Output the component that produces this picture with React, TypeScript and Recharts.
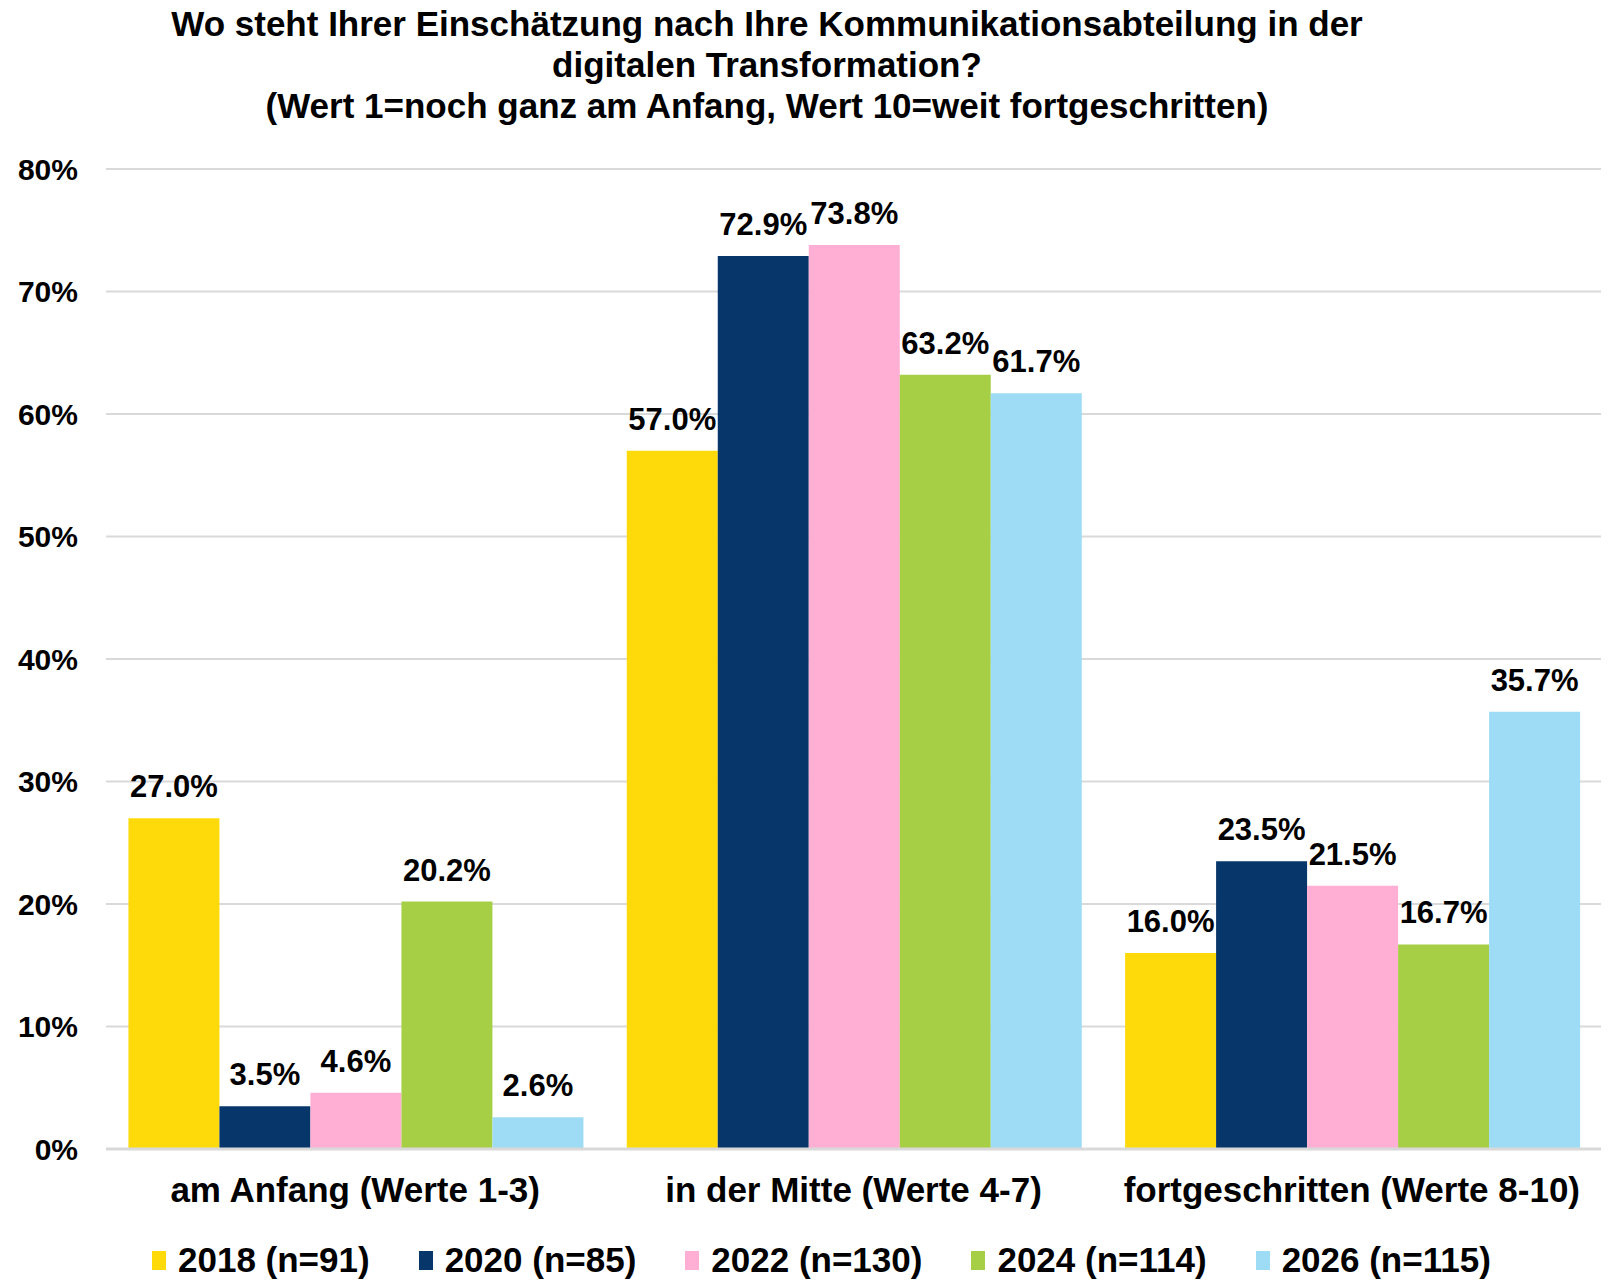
import { BarChart, Bar, XAxis, YAxis, CartesianGrid, Legend, LabelList } from "recharts";

const categories = ["am Anfang (Werte 1-3)", "in der Mitte (Werte 4-7)", "fortgeschritten (Werte 8-10)"];
const seriesNames = ["2018 (n=91)", "2020 (n=85)", "2022 (n=130)", "2024 (n=114)", "2026 (n=115)"];
const values2018 = [27.0, 57.0, 16.0];
const values2020 = [3.5, 72.9, 23.5];
const values2022 = [4.6, 73.8, 21.5];
const values2024 = [20.2, 63.2, 16.7];
const values2026 = [2.6, 61.7, 35.7];
const yTicks = [0, 10, 20, 30, 40, 50, 60, 70, 80];
const titleLines = [
    "Wo steht Ihrer Einschätzung nach Ihre Kommunikationsabteilung in der",
    "digitalen Transformation?",
    "(Wert 1=noch ganz am Anfang, Wert 10=weit fortgeschritten)",
];

const colors = ["#FFDA0B", "#07366A", "#FFAED4", "#A6CF45", "#9EDCF5"];
const font = "'Liberation Sans', Arial, sans-serif";

const seriesValues = [values2018, values2020, values2022, values2024, values2026];
const data = categories.map((c, i) => {
    const row: any = { name: c };
    seriesNames.forEach((s, j) => (row[s] = seriesValues[j][i]));
    return row;
});

const YTick = (props: any) => (
    <text x={78} y={props.y} dy="0.36em" textAnchor="end" fontSize={30} fontWeight="bold" fontFamily={font} fill="#000">
        {props.payload.value}%
    </text>
);

const XTick = (props: any) => (
    <text x={props.x} y={1149} dy={53} textAnchor="middle" fontSize={35} fontWeight="bold" fontFamily={font} fill="#000">
        {props.payload.value}
    </text>
);

const BarLabel = (props: any) => (
    <text x={props.x + props.width / 2} y={props.y - 21} textAnchor="middle" fontSize={31} fontWeight="bold" fontFamily={font} fill="#000">
        {Number(props.value).toFixed(1)}%
    </text>
);

const LegendContent = () => (
    <div style={{ display: "flex", alignItems: "center", height: 40, fontFamily: font, fontWeight: "bold", fontSize: 35, color: "#000", paddingLeft: 152 }}>
        {seriesNames.map((s, i) => (
            <div key={s} style={{ display: "flex", alignItems: "center", marginRight: 49 }}>
                <span style={{ width: 14, height: 19, background: colors[i], marginRight: 12, display: "inline-block" }} />
                <span>{s}</span>
            </div>
        ))}
    </div>
);

export default function App() {
    return (
        <div style={{ position: "absolute", left: 0, top: 0, width: 1620, height: 1280, background: "#fff" }}>
            {titleLines.map((t, i) => (
                <div
                    key={i}
                    style={{
                        position: "absolute",
                        left: 767 - 700,
                        width: 1400,
                        top: 4 + i * 41,
                        textAlign: "center",
                        fontFamily: font,
                        fontWeight: "bold",
                        fontSize: 35,
                        lineHeight: "40px",
                        color: "#000",
                    }}
                >
                    {t}
                </div>
            ))}
            <BarChart
                width={1620}
                height={1280}
                data={data}
                margin={{ top: 169, right: 19, bottom: 0, left: 0 }}
                barCategoryGap="4.5%"
                barGap={0}
                style={{ position: "absolute", left: 0, top: 0 }}
            >
                <CartesianGrid vertical={false} stroke="#D9D9D9" strokeWidth={2} />
                <XAxis dataKey="name" height={91} tick={<XTick />} tickLine={false} axisLine={{ stroke: "#D9D9D9", strokeWidth: 3 }} interval={0} />
                <YAxis width={106} domain={[0, 80]} ticks={yTicks} tick={<YTick />} tickLine={false} axisLine={false} />
                <Legend verticalAlign="bottom" height={40} content={<LegendContent />} />
                {seriesNames.map((s, i) => (
                    <Bar key={s} dataKey={s} fill={colors[i]} isAnimationActive={false}>
                        <LabelList dataKey={s} content={<BarLabel />} />
                    </Bar>
                ))}
            </BarChart>
        </div>
    );
}
